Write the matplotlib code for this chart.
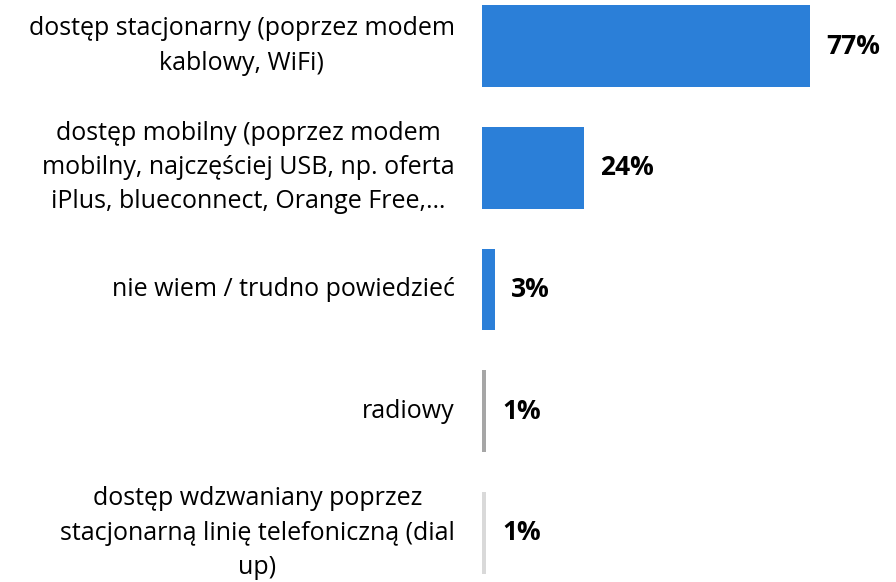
import matplotlib
matplotlib.use("Agg")
import matplotlib.pyplot as plt

categories = [
    "dostęp stacjonarny (poprzez modem\nkablowy, WiFi)",
    "dostęp mobilny (poprzez modem\nmobilny, najczęściej USB, np. oferta\niPlus, blueconnect, Orange Free,…",
    "nie wiem / trudno powiedzieć",
    "radiowy",
    "dostęp wdzwaniany poprzez\nstacjonarną linię telefoniczną (dial\nup)",
]
values = [77, 24, 3, 1, 1]
value_labels = ["77%", "24%", "3%", "1%", "1%"]
colors = ["#2B7FD8", "#2B7FD8", "#2B7FD8", "#A6A6A6", "#D9D9D9"]

plt.rcParams['font.family'] = ['Open Sans', 'DejaVu Sans']

fig = plt.figure(figsize=(8.96, 5.82), dpi=100)
ax = fig.add_axes([482/896, 0, 1 - 482/896, 1])
ypos = list(range(len(values)))
ax.barh(ypos, values, height=0.67, color=colors)
ax.set_xlim(0, 414/4.26)
ax.set_ylim(4 + 49/121.75, -46/121.75)
ax.axis("off")

for y, v, lab in zip(ypos, values, value_labels):
    ax.text(v + 16/4.26, y, lab, ha="left", va="center", fontsize=19, fontweight="bold", color="#000000")

for y, cat in zip(ypos, categories):
    ax.annotate(cat, xy=(0, y), xycoords="data", xytext=(-19.5, 0), textcoords="offset points",
                ha="right", va="center", multialignment="center", fontsize=18,
                color="#000000", linespacing=1.48, annotation_clip=False)

fig.savefig("out.png", dpi=100)
